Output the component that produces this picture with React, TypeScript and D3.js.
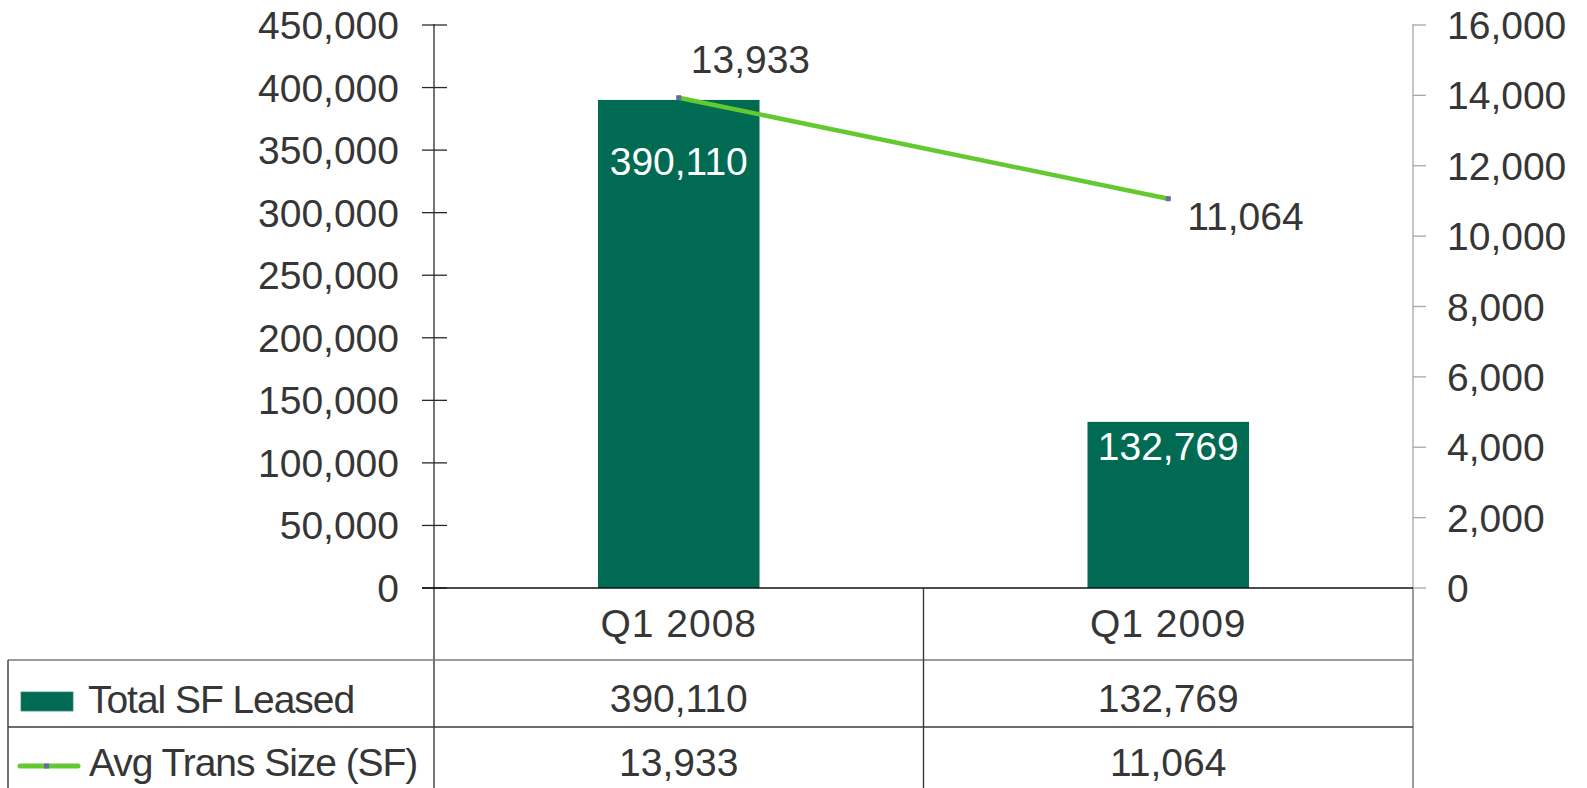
import React from "react";
import * as d3 from "d3";

const categories = ["Q1 2008", "Q1 2009"];
const totalSF = [390110, 132769];
const avgTrans = [13933, 11064];
const leftTicks = [0, 50000, 100000, 150000, 200000, 250000, 300000, 350000, 400000, 450000];
const rightTicks = [0, 2000, 4000, 6000, 8000, 10000, 12000, 14000, 16000];
const seriesNames = ["Total SF Leased", "Avg Trans Size (SF)"];

const W = 1587;
const H = 788;
const FONT = "'Liberation Sans', Arial, sans-serif";
const TEXT = "#363636";
const BAR = "#006B52";
const LINE = "#62C930";
const MARK = "#6B6A9E";

export default function App() {
  const left = 434;
  const right = 1413;
  const y0 = 588;
  const yTop = 25;
  const x = d3.scaleBand<string>().domain(categories).range([left, right]).padding(0);
  const yL = d3.scaleLinear().domain([0, 450000]).range([y0, yTop]);
  const yR = d3.scaleLinear().domain([0, 16000]).range([y0, yTop]);
  const fmt = d3.format(",");
  const bw = x.bandwidth() * 0.33;
  const cx = (c: string) => (x(c) as number) + x.bandwidth() / 2;

  const line = d3
    .line<number>()
    .x((_, i) => cx(categories[i]))
    .y((d) => yR(d));

  const barLabelDy = [75, 38];
  const lineLabelDx = [12, 19];
  const lineLabelDy = [-25, 31];

  const row1Top = y0;
  const row2Top = 660;
  const row3Top = 727;

  return (
    <svg
      width={W}
      height={H}
      style={{ position: "absolute", left: 0, top: 0, background: "#fff" }}
      fontFamily={FONT}
    >
      <rect x={0} y={0} width={W} height={H} fill="#fff" />
      {/* bars */}
      {categories.map((c, i) => (
        <rect
          key={c}
          x={cx(c) - bw / 2}
          y={yL(totalSF[i])}
          width={bw}
          height={y0 - yL(totalSF[i])}
          fill={BAR}
        />
      ))}
      {/* bar labels */}
      {categories.map((c, i) => (
        <text
          key={"bl" + c}
          x={cx(c)}
          y={yL(totalSF[i]) + barLabelDy[i]}
          textAnchor="middle"
          fontSize={39}
          fill="#fff"
        >
          {fmt(totalSF[i])}
        </text>
      ))}
      {/* left axis */}
      <line x1={left} x2={left} y1={yTop - 1} y2={H} stroke="#2a2a2a" strokeWidth={1.3} />
      {leftTicks.map((t) => (
        <g key={"lt" + t}>
          <line x1={left - 12} x2={left + 13} y1={yL(t)} y2={yL(t)} stroke="#2a2a2a" strokeWidth={1.3} />
          <text x={399} y={yL(t) + 14} textAnchor="end" fontSize={39} fill={TEXT}>
            {fmt(t)}
          </text>
        </g>
      ))}
      {/* right axis */}
      <line x1={right} x2={right} y1={yTop - 1} y2={y0} stroke="#a8a8a8" strokeWidth={1.3} />
      <line x1={right} x2={right} y1={y0} y2={H} stroke="#6a6a6a" strokeWidth={1.3} />
      {rightTicks.map((t) => (
        <g key={"rt" + t}>
          <line x1={right} x2={right + 13} y1={yR(t)} y2={yR(t)} stroke="#a8a8a8" strokeWidth={1.3} />
          <text x={1447} y={yR(t) + 14} textAnchor="start" fontSize={39} fill={TEXT}>
            {fmt(t)}
          </text>
        </g>
      ))}
      {/* zero line */}
      <line x1={left - 12} x2={right} y1={y0} y2={y0} stroke="#111" strokeWidth={1.6} />
      {/* line series */}
      <path d={line(avgTrans) as string} fill="none" stroke={LINE} strokeWidth={4.5} strokeLinecap="round" />
      {avgTrans.map((v, i) => (
        <rect key={"m" + i} x={cx(categories[i]) - 2.5} y={yR(v) - 2.5} width={5} height={5} fill={MARK} />
      ))}
      {avgTrans.map((v, i) => (
        <text
          key={"ll" + i}
          x={cx(categories[i]) + lineLabelDx[i]}
          y={yR(v) + lineLabelDy[i]}
          textAnchor="start"
          fontSize={39}
          fill={TEXT}
        >
          {fmt(v)}
        </text>
      ))}
      {/* data table */}
      <line x1={8} x2={right} y1={row2Top} y2={row2Top} stroke="#7a7a7a" strokeWidth={1.6} />
      <line x1={8} x2={right} y1={row3Top} y2={row3Top} stroke="#3a3a3a" strokeWidth={1.4} />
      <line x1={8} x2={8} y1={row2Top} y2={H} stroke="#3a3a3a" strokeWidth={1.4} />
      <line
        x1={(x(categories[1]) as number)}
        x2={(x(categories[1]) as number)}
        y1={y0}
        y2={H}
        stroke="#3a3a3a"
        strokeWidth={1.4}
      />
      {categories.map((c) => (
        <text key={"h" + c} x={cx(c)} y={row1Top + 49} textAnchor="middle" fontSize={39} fill={TEXT} letterSpacing={1}>
          {c}
        </text>
      ))}
      {categories.map((c, i) => (
        <text key={"r1" + c} x={cx(c)} y={row2Top + 52} textAnchor="middle" fontSize={39} fill={TEXT}>
          {fmt(totalSF[i])}
        </text>
      ))}
      {categories.map((c, i) => (
        <text key={"r2" + c} x={cx(c)} y={row3Top + 49} textAnchor="middle" fontSize={39} fill={TEXT}>
          {fmt(avgTrans[i])}
        </text>
      ))}
      {/* legend keys */}
      <rect x={21} y={692} width={52} height={19} fill={BAR} stroke="#2f8a72" strokeWidth={0.8} />
      <text x={88} y={713} fontSize={39} fill={TEXT} letterSpacing={-1.05}>
        {seriesNames[0]}
      </text>
      <line x1={20} x2={78} y1={766} y2={766} stroke={LINE} strokeWidth={5} strokeLinecap="round" />
      <rect x={44} y={763.5} width={5} height={5} fill={MARK} />
      <text x={89} y={776} fontSize={39} fill={TEXT} letterSpacing={-1.05}>
        {seriesNames[1]}
      </text>
    </svg>
  );
}
